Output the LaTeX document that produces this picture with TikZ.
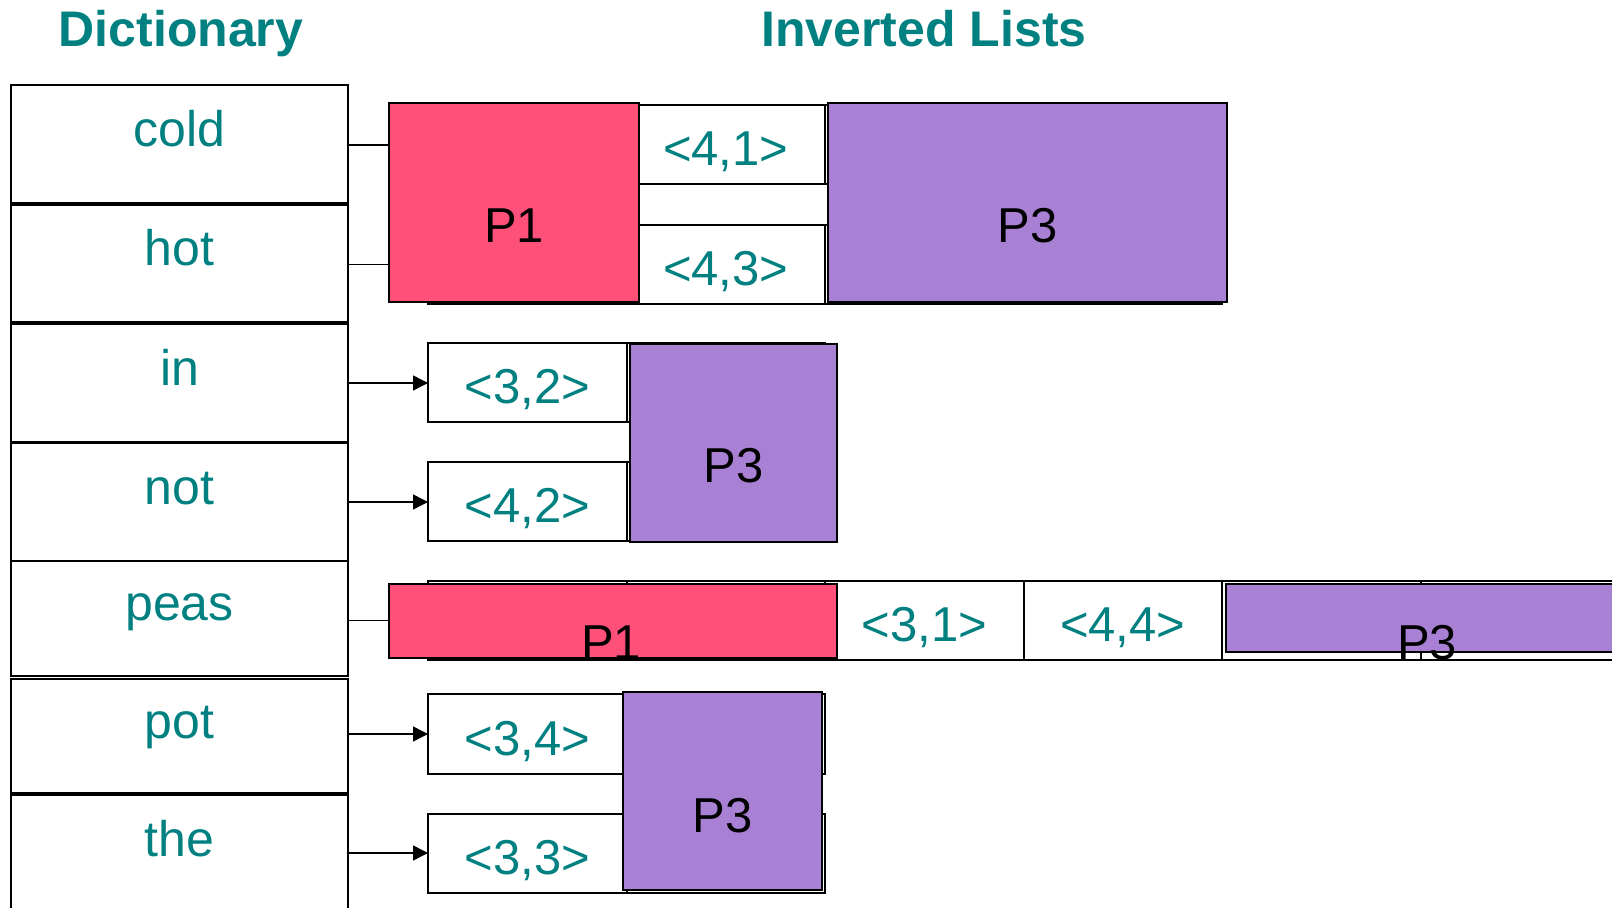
\documentclass[tikz,border=0pt]{standalone}
\usepackage{fontspec}
\setmainfont{Liberation Sans}
\usetikzlibrary{arrows.meta}
\definecolor{dictteal}{RGB}{0,128,128}
\definecolor{pagepink}{RGB}{255,80,122}
\definecolor{pagepurple}{RGB}{168,128,212}
\begin{document}
\begin{tikzpicture}[x=0.5pt,y=-0.5pt,
  every node/.style={inner sep=0pt, outer sep=0pt},
  title/.style={text=dictteal, font=\fontsize{25}{30}\selectfont\bfseries, anchor=base},
  dictbox/.style={draw, line width=1pt, minimum width=168.5pt, text=dictteal,
    font=\fontsize{25}{30}\selectfont, text height=17.5pt, text depth=15pt},
  postbox/.style={draw, line width=1pt, fill=white, minimum width=99.25pt,
    minimum height=39.5pt, text=dictteal, font=\fontsize{24.5}{29}\selectfont,
    text height=22pt, text depth=1pt},
  pinkpage/.style={draw, line width=1pt, fill=pagepink},
  purplepage/.style={draw, line width=1pt, fill=pagepurple},
  pagelabel/.style={anchor=base, font=\fontsize{24.5}{29}\selectfont, text=black},
  link/.style={line width=0.7pt},
  arrowlink/.style={link, -{Triangle[length=7.5pt,width=7.5pt]}},
]
\useasboundingbox (0,0) rectangle (1612,908);
\clip (0,0) rectangle (1612,908);

% headings
\node[title] (tdict) at (181,47) {Dictionary};
\node[title] (tinv) at (924,47) {Inverted Lists};

% dictionary column
\node[dictbox, minimum height=59pt] (dcold) at (179.5,144) {cold};
\node[dictbox, minimum height=58.5pt] (dhot) at (179.5,263.5) {hot};
\node[dictbox, minimum height=59pt] (din) at (179.5,383) {in};
\node[dictbox, minimum height=59pt] (dnot) at (179.5,502) {not};
\node[dictbox, minimum height=57.5pt] (dpeas) at (179.5,618.5) {peas};
\node[dictbox, minimum height=57pt] (dpot) at (179.5,736) {pot};
\node[dictbox, minimum height=59pt] (dthe) at (179.5,854) {the};

% posting entries
\node[postbox] (r1c1) at (527.25,145) {};
\node[postbox] (r1c2) at (725.75,145) {<4,1>};
\node[postbox] (r1c3) at (924.25,145) {};
\node[postbox] (r1c4) at (1122.75,145) {};

\node[postbox] (r2c1) at (527.25,264.5) {};
\node[postbox] (r2c2) at (725.75,264.5) {<4,3>};
\node[postbox] (r2c3) at (924.25,264.5) {};
\node[postbox] (r2c4) at (1122.75,264.5) {};

\node[postbox] (r3c1) at (527.25,383) {<3,2>};
\node[postbox] (r3c2) at (725.75,383) {};

\node[postbox] (r4c1) at (527.25,502) {<4,2>};
\node[postbox] (r4c2) at (725.75,502) {};

\node[postbox] (r5c1) at (527.25,620.5) {};
\node[postbox] (r5c2) at (725.75,620.5) {};
\node[postbox] (r5c3) at (924.25,620.5) {<3,1>};
\node[postbox] (r5c4) at (1122.75,620.5) {<4,4>};
\node[postbox] (r5c5) at (1321.25,620.5) {};
\node[postbox] (r5c6) at (1519.75,620.5) {};

\node[postbox] (r6c1) at (527.25,734) {<3,4>};
\node[postbox] (r6c2) at (725.75,734) {};

\node[postbox] (r7c1) at (527.25,853) {<3,3>};
\node[postbox] (r7c2) at (725.75,853) {};

% page blocks
\node[pinkpage, minimum width=125pt, minimum height=99.5pt] (pone) at (514,202.5) {};
\node[purplepage, minimum width=199.5pt, minimum height=99.5pt] (pthree) at (1027.5,202.5) {};
\node[purplepage, minimum width=103.5pt, minimum height=99pt] (pthreeb) at (733.5,443) {};
\node[pinkpage, minimum width=224pt, minimum height=37pt] (poneb) at (613,621) {};
\node[purplepage, minimum width=201pt, minimum height=34pt] (pthreec) at (1427,618) {};
\node[purplepage, minimum width=99.5pt, minimum height=99pt] (pthreed) at (722.5,791) {};

\node[pagelabel] (lone) at (514,243) {P1};
\node[pagelabel] (lthree) at (1027.5,243) {P3};
\node[pagelabel] (lthreeb) at (733.5,483) {P3};
\node[pagelabel] (loneb) at (611,660) {P1};
\node[pagelabel] (lthreec) at (1427,660) {P3};
\node[pagelabel] (lthreed) at (722.5,832) {P3};

% links from terms to their lists
\draw[link] (dcold.east |- r1c1) -- (r1c1 -| pone.west);
\draw[link] (dhot.east |- r2c1) -- (r2c1 -| pone.west);
\draw[arrowlink] (din.east |- r3c1.west) -- (r3c1.west);
\draw[arrowlink] (dnot.east |- r4c1.west) -- (r4c1.west);
\draw[link] (dpeas.east |- r5c1) -- (r5c1 -| poneb.west);
\draw[arrowlink] (dpot.east |- r6c1.west) -- (r6c1.west);
\draw[arrowlink] (dthe.east |- r7c1.west) -- (r7c1.west);
\end{tikzpicture}
\end{document}
